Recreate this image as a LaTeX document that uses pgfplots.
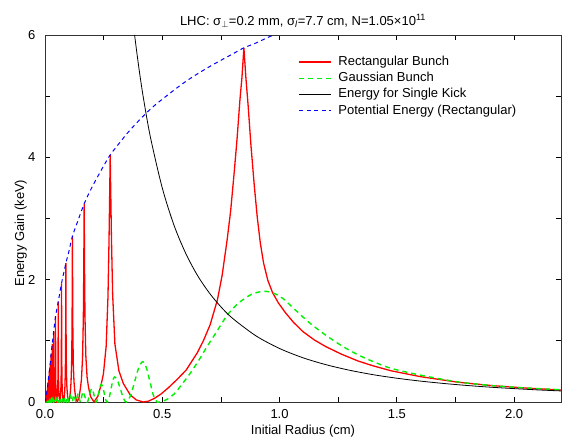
\documentclass[border=0pt]{standalone}
\usepackage{fontspec}
\setmainfont{Liberation Sans}
\usepackage{pgfplots}
\pgfplotsset{compat=1.18}

\definecolor{bunchred}{RGB}{255,0,0}
\definecolor{bunchgreen}{RGB}{0,240,0}
\definecolor{potblue}{RGB}{0,0,255}

\begin{document}
\fontsize{13}{15.6}\selectfont
\begin{tikzpicture}
\begin{axis}[
  scale only axis, width=516pt, height=367pt,
  xmin=0, xmax=2.2, ymin=0, ymax=6,
  xtick={0,0.5,1,1.5,2}, ytick={0,2,4,6},
  minor x tick num=1, minor y tick num=1,
  major tick length=5pt, minor tick length=5pt,
  tick align=inside,
  axis line style={line width=0.9pt, black!80},
  tick style={line width=0.7pt, black},
  /pgf/number format/assume math mode=true,
  xticklabel style={/pgf/number format/fixed, /pgf/number format/fixed zerofill, /pgf/number format/precision=1, yshift=-3pt},
  yticklabel style={xshift=-5pt},
  title={LHC: σ$_\perp$=0.2 mm, σ\textsubscript{\textit{l}}=7.7 cm, N=1.05×10\textsuperscript{11}},
  every axis title/.style={at={(0.5,1)}, anchor=base, yshift=10pt},
  xlabel={Initial Radius (cm)},
  every axis x label/.style={at={(rel axis cs:0.5,0)}, anchor=base, yshift=-32pt},
  ylabel={Energy Gain (keV)},
  every axis y label/.style={at={(rel axis cs:-0.047,0.46)}, rotate=90, anchor=center},
  legend style={draw=none, fill=none, at={(0.491,0.948)}, anchor=north west, inner sep=0pt, row sep=1pt,
    nodes={inner sep=1.5pt, text height=9.5pt, text depth=2.8pt},
    /tikz/every odd column/.append style={column sep=5pt}},
  legend cell align=left,
  legend image code/.code={\draw[#1] (0pt,0pt) -- (32pt,0pt);},
]
% rectangular bunch
\addplot[color=bunchred, line width=1.3pt] coordinates {
(0,0)(0.003,0.05)(0.004,0)(0.005,0.09)(0.0058,0)(0.007,0.14)(0.0079,0)(0.009,0.19)(0.0099,0)
(0.011,0.25)(0.0119,0)(0.0128,0.1)(0.013,0.32)(0.0132,0.1)(0.0141,0)(0.0153,0.13)(0.0155,0.4)(0.0158,0.13)
(0.0169,0)(0.0182,0.16)(0.0185,0.5)(0.0189,0.16)(0.0201,0)(0.0216,0.2)(0.022,0.62)(0.0225,0.2)
(0.0238,0)(0.0255,0.25)(0.026,0.78)(0.0266,0.25)(0.0283,0)
(0.02956,0.066)(0.0304,0.22)(0.03085,0.63)(0.031,0.95)(0.03112,0.63)(0.03152,0.22)(0.03233,0.067)(0.0338,0)
(0.03531,0.08)(0.03631,0.26)(0.03682,0.76)(0.037,1.15)(0.03716,0.76)(0.03766,0.27)(0.03871,0.08)(0.0406,0)
(0.04268,0.095)(0.04405,0.32)(0.04476,0.92)(0.045,1.40)(0.04523,0.92)(0.04593,0.33)(0.0474,0.10)(0.0501,0)
(0.0531,0.11)(0.0551,0.37)(0.0561,1.08)(0.0565,1.64)(0.0568,1.08)(0.0577,0.38)(0.0595,0.12)(0.0628,0)
(0.0649,0.047)(0.0665,0.13)(0.0677,0.22)(0.0689,0.44)(0.0697,0.83)(0.0702,1.28)(0.0704,1.67)(0.0706,1.94)
(0.0707,1.67)(0.0710,1.28)(0.0713,0.84)(0.0721,0.45)(0.0732,0.24)(0.0745,0.14)(0.0761,0.053)(0.0787,0)
(0.0816,0.055)(0.0836,0.15)(0.0851,0.26)(0.0867,0.51)(0.0879,0.97)(0.0884,1.49)(0.0888,1.95)(0.089,2.27)
(0.0892,1.95)(0.0895,1.50)(0.0901,0.98)(0.0912,0.53)(0.0929,0.28)(0.0947,0.17)(0.0971,0.063)(0.1011,0)
(0.1054,0.066)(0.1085,0.18)(0.1109,0.32)(0.1134,0.61)(0.1152,1.16)(0.1161,1.78)(0.1166,2.32)(0.117,2.71)
(0.1174,2.33)(0.1179,1.80)(0.1188,1.17)(0.1206,0.63)(0.1235,0.34)(0.1264,0.20)(0.1307,0.075)(0.1376,0)
(0.1452,0.079)(0.1509,0.22)(0.1554,0.37)(0.1602,0.73)(0.1635,1.38)(0.1652,2.13)(0.1663,2.78)(0.167,3.24)
(0.1677,2.79)(0.1687,2.15)(0.1704,1.41)(0.1740,0.76)(0.1796,0.40)(0.1856,0.24)(0.1942,0.09)(0.2087,0)
(0.2256,0.096)(0.2385,0.27)(0.2491,0.46)(0.2607,0.91)(0.2685,1.72)(0.2730,2.65)(0.2760,3.47)(0.278,4.04)
(0.2801,3.48)(0.2833,2.68)(0.2884,1.76)(0.2980,0.95)(0.3151,0.51)(0.3342,0.30)(0.3635,0.116)(0.3892,0.034)(0.419,0)
(0.4411,0.014)(0.4659,0.058)(0.4938,0.128)(0.5251,0.23)(0.5607,0.36)(0.6015,0.52)(0.6486,0.80)(0.6751,1.00)
(0.7038,1.26)(0.7351,1.67)(0.7552,2.07)(0.7765,2.65)(0.7914,3.12)(0.8068,3.76)(0.8188,4.30)(0.8311,4.94)(0.8396,5.30)(0.848,5.79)
(0.8565,5.3)(0.866,4.85)(0.878,4.2)(0.892,3.55)(0.905,3.02)(0.918,2.6)(0.932,2.27)(0.95,1.99)(0.97,1.79)
(0.995,1.62)(1.025,1.46)(1.06,1.3)(1.1,1.15)(1.15,1.01)(1.2,0.9)(1.265,0.78)(1.335,0.67)(1.4,0.59)
(1.476,0.51)(1.6,0.415)(1.758,0.325)(1.9,0.27)(2.05,0.228)(2.2,0.196)
};
\addlegendentry{Rectangular Bunch}
% gaussian bunch
\addplot[color=bunchgreen, line width=1.4pt, dash pattern=on 5pt off 4pt, smooth] coordinates {
(0,0)(0.011,0)(0.013,0.015)(0.015,0)(0.0159,0.02)(0.0169,0)(0.018,0.02)(0.0193,0)(0.0208,0.025)(0.0223,0)
(0.0238,0.03)(0.0254,0)(0.027,0.03)(0.0289,0)(0.0308,0.035)(0.0329,0)(0.035,0.04)(0.0374,0)(0.04,0.045)
(0.0427,0)(0.0455,0.05)(0.0485,0)(0.0518,0.055)(0.0553,0)(0.0588,0.06)(0.0627,0)(0.0667,0.065)(0.0709,0)
(0.0735,0.035)(0.076,0.07)(0.078,0.035)(0.0803,0)(0.0826,0.04)(0.085,0.08)(0.0878,0.04)(0.0905,0)
(0.0933,0.045)(0.096,0.09)(0.099,0.045)(0.102,0)(0.1055,0.05)(0.109,0.10)(0.1125,0.05)(0.116,0)
(0.1195,0.06)(0.123,0.12)(0.1275,0.06)(0.132,0)(0.1365,0.07)(0.141,0.14)(0.146,0.07)(0.151,0)
(0.1565,0.085)(0.162,0.17)(0.1705,0.085)(0.179,0)(0.1843,0.032)(0.1895,0.11)(0.1948,0.188)(0.2,0.22)
(0.2045,0.188)(0.209,0.11)(0.2135,0.032)(0.218,0)(0.2235,0.04)(0.229,0.145)(0.2345,0.25)(0.24,0.29)
(0.246,0.25)(0.2525,0.145)(0.2585,0.04)(0.265,0)(0.273,0.06)(0.281,0.205)(0.289,0.35)(0.297,0.41)
(0.3095,0.35)(0.322,0.205)(0.3345,0.06)(0.347,0)(0.3645,0.10)(0.382,0.33)(0.3995,0.56)(0.417,0.66)
(0.4323,0.56)(0.4475,0.33)(0.4628,0.10)(0.478,0)(0.49,0.004)(0.516,0.035)(0.55,0.13)(0.586,0.30)
(0.621,0.48)(0.657,0.69)(0.69,0.9)(0.727,1.12)(0.777,1.42)(0.826,1.62)(0.88,1.76)(0.932,1.81)
(0.975,1.78)(1.015,1.69)(1.052,1.56)(1.123,1.31)(1.194,1.10)(1.265,0.92)(1.335,0.77)(1.4,0.66)
(1.476,0.55)(1.6,0.44)(1.758,0.33)(1.9,0.27)(2.05,0.23)(2.2,0.20)
};
\addlegendentry{Gaussian Bunch}
% single kick
\addplot[black, line width=0.8pt, smooth] coordinates {
(0.37,6.39)(0.38,6.06)(0.4,5.47)(0.42,4.96)(0.45,4.32)(0.5,3.50)(0.55,2.89)(0.6,2.43)(0.65,2.07)
(0.7,1.786)(0.75,1.556)(0.8,1.367)(0.9,1.080)(1.0,0.875)(1.1,0.723)(1.2,0.608)(1.3,0.518)(1.4,0.446)
(1.5,0.389)(1.6,0.342)(1.7,0.303)(1.8,0.270)(1.9,0.242)(2.0,0.219)(2.1,0.198)(2.2,0.181)
};
\addlegendentry{Energy for Single Kick}
% potential energy
\addplot[color=potblue, line width=1.0pt, dash pattern=on 4pt off 3.5pt, smooth] coordinates {
(0,0)(0.005,0.09)(0.009,0.19)(0.013,0.32)(0.0185,0.5)(0.022,0.62)(0.026,0.78)(0.031,0.95)(0.037,1.15)
(0.045,1.40)(0.0565,1.64)(0.0706,1.94)(0.089,2.27)(0.1,2.43)(0.117,2.71)(0.14,2.96)(0.167,3.24)
(0.2,3.51)(0.25,3.86)(0.278,4.04)(0.3,4.15)(0.35,4.39)(0.4,4.60)(0.45,4.79)(0.5,4.95)(0.6,5.24)
(0.7,5.48)(0.8,5.69)(0.848,5.79)(0.9,5.87)(0.95,5.96)(1.0,6.04)(1.05,6.12)
};
\addlegendentry{Potential Energy (Rectangular)}
\end{axis}
\pgfresetboundingbox
\path (current axis.south west) ++(-45pt,-35pt) rectangle ++(562pt,437pt);
\end{tikzpicture}
\end{document}
